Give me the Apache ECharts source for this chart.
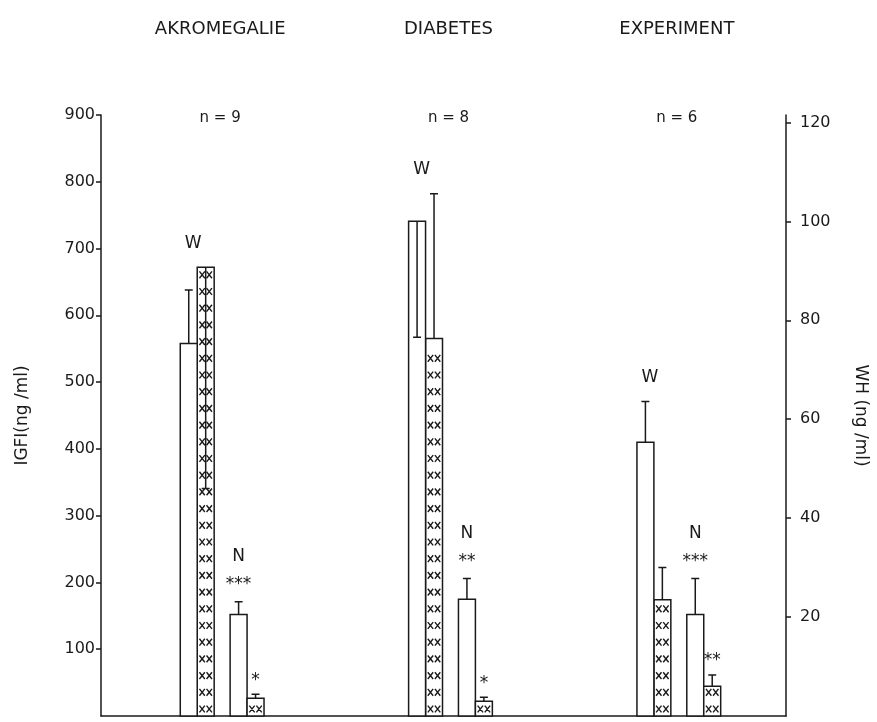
<!DOCTYPE html>
<html><head><meta charset="utf-8">
<script src="https://cdn.jsdelivr.net/npm/echarts@6/dist/echarts.min.js"></script>
<style>html,body{margin:0;padding:0;background:#fff}#c{width:877px;height:722px}</style>
</head><body><div id="c"></div>
<script>
// ---- data ----
const categories = ['AKROMEGALIE', 'DIABETES', 'EXPERIMENT'];
const nLabels = ['n = 9', 'n = 8', 'n = 6'];
// IGF-I (left axis, ng/ml) – white bars; error = end of error bar
const wIgf = [558, 741, 410];
const wIgfErr = [638, 567, 471];
const nIgf = [152, 175, 152];
const nIgfErr = [171, 206, 206];
// WH (right axis, ng/ml) – hatched bars
const wWh = [90.7, 76.3, 23.5];
const wWhErr = [46, 105.6, 30];
const nWh = [3.6, 3.0, 6.0];
const nWhErr = [4.4, 3.8, 8.3];
// significance marks
const nIgfSig = ['***', '**', '***'];
const nWhSig = ['*', '*', '**'];
const leftTicks = [100, 200, 300, 400, 500, 600, 700, 800, 900];
const rightTicks = [20, 40, 60, 80, 100, 120];

// ---- style ----
const FONT = 'DejaVu Sans';
const INK = '#1a1a1a';
// bar slot offsets (px relative to a 229 px category band)
const SLOT = { wIgf: [-35, -18], wWh: [-18, -1], nIgf: [15, 32], nWh: [32, 49] };

function makeRender(slot, hatched) {
  return function (params, api) {
    const i = api.value(0), v = api.value(1), e = api.value(2);
    const base = api.coord([i, 0]);
    const top = api.coord([i, v]);
    const err = api.coord([i, e]);
    const s = api.size([1, 0])[0] / 229;
    const x0 = base[0] + slot[0] * s, x1 = base[0] + slot[1] * s;
    const w = x1 - x0, cx = (x0 + x1) / 2;
    const children = [{
      type: 'rect',
      shape: { x: x0, y: top[1], width: w, height: base[1] - top[1] },
      style: { fill: '#fff', stroke: INK, lineWidth: 1.5 }
    }];
    if (hatched) {
      let d = '';
      const ax = 2.7, ay = 3.4;
      const xs = [x0 + w * 0.29, x0 + w * 0.71];
      for (let yc = base[1] - 7; yc - ay > top[1] + 1; yc -= 16.7) {
        xs.forEach(xc => {
          d += `M${xc - ax} ${yc - ay}L${xc + ax} ${yc + ay}M${xc - ax} ${yc + ay}L${xc + ax} ${yc - ay}`;
        });
      }
      if (d) children.push({ type: 'path', shape: { pathData: d }, style: { fill: null, stroke: INK, lineWidth: 1.4 } });
    }
    children.push({
      type: 'path',
      shape: { pathData: `M${cx} ${top[1]}L${cx} ${err[1]}M${cx - 4} ${err[1]}L${cx + 4} ${err[1]}` },
      style: { fill: null, stroke: INK, lineWidth: 1.5 }
    });
    return { type: 'group', children };
  };
}
function seriesData(vals, errs) { return vals.map((v, i) => [i, v, errs[i]]); }

const chart = echarts.init(document.getElementById('c'), null, { renderer: 'canvas' });
const axisCommon = {
  type: 'value', min: 0,
  splitLine: { show: false },
  axisLine: { show: true, lineStyle: { color: INK, width: 1.5 } },
  axisTick: { show: true, length: 5, lineStyle: { color: INK, width: 1.5 } },
  axisLabel: { color: INK, fontFamily: FONT, fontSize: 16 },
  nameLocation: 'middle',
  nameTextStyle: { color: INK, fontFamily: FONT, fontSize: 17 }
};
chart.setOption({
  animation: false,
  backgroundColor: '#fff',
  grid: { left: 101, right: 89, top: 115, bottom: 6 },
  xAxis: {
    type: 'category', data: categories, boundaryGap: true,
    axisLine: { show: true, lineStyle: { color: INK, width: 1.5 } },
    axisTick: { show: false }, axisLabel: { show: false }
  },
  yAxis: [
    Object.assign({}, axisCommon, {
      max: 900, position: 'left', name: 'IGFI(ng /ml)', nameRotate: 90, nameGap: 70,
      axisTick: Object.assign({}, axisCommon.axisTick, { customValues: leftTicks }),
      axisLabel: Object.assign({}, axisCommon.axisLabel, { customValues: leftTicks, margin: 6 })
    }),
    Object.assign({}, axisCommon, {
      max: 121.5, position: 'right', name: 'WH (ng /ml)', nameRotate: -90, nameGap: 66,
      axisTick: Object.assign({}, axisCommon.axisTick, { customValues: rightTicks }),
      axisLabel: Object.assign({}, axisCommon.axisLabel, { customValues: rightTicks, margin: 14 })
    })
  ],
  series: [
    { type: 'custom', yAxisIndex: 0, renderItem: makeRender(SLOT.wIgf, false), data: seriesData(wIgf, wIgfErr), z: 3 },
    { type: 'custom', yAxisIndex: 1, renderItem: makeRender(SLOT.wWh, true), data: seriesData(wWh, wWhErr), z: 2 },
    { type: 'custom', yAxisIndex: 0, renderItem: makeRender(SLOT.nIgf, false), data: seriesData(nIgf, nIgfErr), z: 2 },
    { type: 'custom', yAxisIndex: 1, renderItem: makeRender(SLOT.nWh, true), data: seriesData(nWh, nWhErr), z: 2 }
  ]
});

// ---- annotations via the chart's own scales ----
const X = i => chart.convertToPixel({ xAxisIndex: 0 }, i);
const YL = v => chart.convertToPixel({ yAxisIndex: 0 }, v);
const YR = v => chart.convertToPixel({ yAxisIndex: 1 }, v);
const band = Math.abs(X(1) - X(0)), s = band / 229;
const txt = (x, y, t, size) => ({
  type: 'text', x, y,
  style: { text: t, fill: INK, font: `${size}px "${FONT}"`, textAlign: 'center', textVerticalAlign: 'middle' }
});
const g = [];
categories.forEach((c, i) => {
  const cx = X(i);
  g.push(txt(cx + 5, 29, c, 18));
  g.push(txt(cx + 5, 118, nLabels[i], 15));
  const wTop = Math.min(YL(wIgf[i]), YL(wIgfErr[i]), YR(wWh[i]), YR(wWhErr[i]));
  g.push(txt(cx - 22 * s, wTop - 24, 'W', 17));
  const nTop = Math.min(YL(nIgf[i]), YL(nIgfErr[i]));
  const nc = cx + 23.5 * s;
  g.push(txt(nc, nTop - 45, 'N', 17));
  g.push(txt(nc, nTop - 17, nIgfSig[i], 17));
  const hTop = Math.min(YR(nWh[i]), YR(nWhErr[i]));
  g.push(txt(cx + 40.5 * s, hTop - 14, nWhSig[i], 17));
});
chart.setOption({ graphic: g });
</script></body></html>
